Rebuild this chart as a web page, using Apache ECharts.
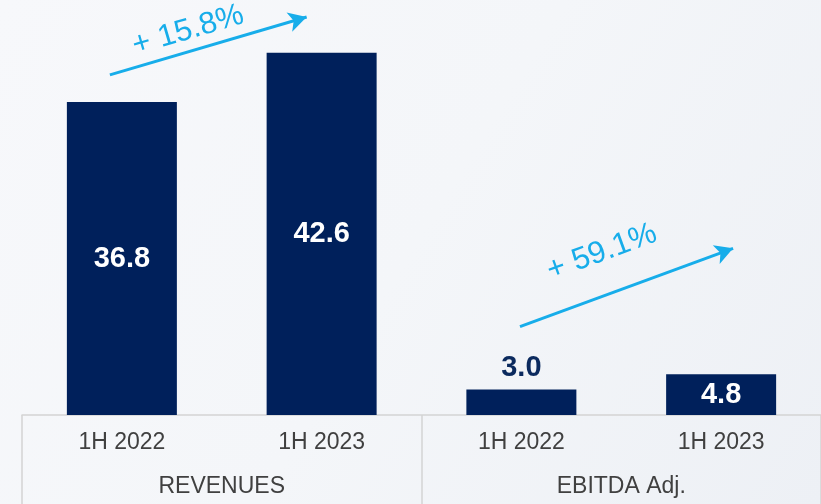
<!DOCTYPE html>
<html>
<head>
<meta charset="utf-8">
<script src="https://cdn.jsdelivr.net/npm/echarts@6/dist/echarts.min.js"></script>
<style>
  html, body { margin: 0; padding: 0; }
  #main { width: 821px; height: 504px; }
</style>
</head>
<body>
<div id="main"></div>
<script>
// chart data
const periods = ['1H 2022', '1H 2023', '1H 2022', '1H 2023']
const groups = ['REVENUES', 'EBITDA Adj.']
const values = [36.8, 42.6, 3.0, 4.8]
const growthLabels = ['+ 15.8%', '+ 59.1%']

const chart = echarts.init(document.getElementById('main'))

const font = "'Liberation Sans', Arial, sans-serif"
const navy = '#00205B'
const cyan = '#17ADEA'
const border = '#d4d4d4'

const option = {
  animation: false,
  backgroundColor: {
    type: 'linear', x: 0, y: 0, x2: 1, y2: 1,
    colorStops: [
      { offset: 0, color: '#f7f8fb' },
      { offset: 0.5, color: '#f4f6f9' },
      { offset: 1, color: '#edf0f5' },
    ],
  },
  grid: { left: 22, right: -1, top: 0, bottom: 89 },
  xAxis: [
    {
      type: 'category',
      data: periods,
      axisLine: { lineStyle: { color: border, width: 1.5 } },
      axisTick: { show: false },
      axisLabel: { color: '#404040', fontSize: 23, fontFamily: font, margin: 16 },
    },
    {
      type: 'category',
      data: groups,
      position: 'bottom',
      axisLine: { show: false },
      axisTick: { show: true, interval: 0, length: 89, lineStyle: { color: border, width: 1.5 } },
      axisLabel: { color: '#404040', fontSize: 23, fontFamily: font, margin: 60 },
    },
    // hidden value axis used to place the growth arrows
    { type: 'value', min: -0.5, max: 3.5, show: false },
  ],
  yAxis: { type: 'value', min: 0, max: 48.8, show: false },
  series: [
    {
      type: 'bar',
      barWidth: 110,
      itemStyle: { color: navy },
      data: values.map(v => ({
        value: v,
        label: v < 4
          ? { show: true, position: 'top', distance: 7, color: '#0b2a5e' }
          : { show: true, position: 'inside', color: '#fff' },
      })),
      label: {
        fontSize: 29,
        fontWeight: 'bold',
        fontFamily: font,
        formatter: p => p.value.toFixed(1),
      },
    },
    {
      type: 'line',
      xAxisIndex: 2,
      data: [],
      markLine: {
        silent: true,
        symbol: ['none', 'arrow'],
        symbolSize: [15, 18],
        lineStyle: { color: cyan, width: 3, type: 'solid' },
        label: {
          show: true,
          position: 'middle',
          color: cyan,
          fontSize: 31,
          fontFamily: font,
        },
        data: [
          [
            { coord: [-0.06, 40.0], label: { formatter: growthLabels[0], distance: 5, padding: [0, 30, 0, 0] } },
            { coord: [0.925, 46.8] },
          ],
          [
            { coord: [1.993, 10.4], label: { formatter: growthLabels[1], distance: 26, padding: [0, 22, 0, 0] } },
            { coord: [3.06, 19.6] },
          ],
        ],
      },
    },
  ],
}

chart.setOption(option)
</script>
</body>
</html>
